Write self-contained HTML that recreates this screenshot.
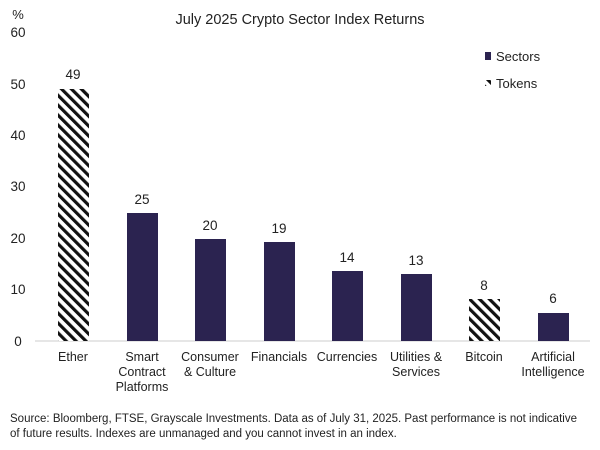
<!DOCTYPE html>
<html><head><meta charset="utf-8"><style>
body{margin:0;background:#fff}
svg text{font-family:"Liberation Sans",sans-serif;fill:#222}
</style></head><body>
<svg width="600" height="445" xmlns="http://www.w3.org/2000/svg">
<defs>
<pattern id="h" width="7" height="7" patternUnits="userSpaceOnUse" patternTransform="rotate(-45)">
<rect width="7" height="7" fill="#fff"/><rect width="3.2" height="7" fill="#111"/>
</pattern>
</defs>
<text x="300" y="24" font-size="14.5" text-anchor="middle">July 2025 Crypto Sector Index Returns</text>
<text x="18" y="19" font-size="13" text-anchor="middle">%</text>
<g font-size="13.5" text-anchor="middle">
<text x="18" y="37">60</text><text x="18" y="89">50</text><text x="18" y="140">40</text>
<text x="18" y="191">30</text><text x="18" y="243">20</text><text x="18" y="294">10</text><text x="18" y="346">0</text>
</g>
<line x1="35" y1="341" x2="590" y2="341" stroke="#ccc" stroke-width="1"/>
<g fill="#2b2350">
<rect x="58" y="89" width="31" height="252" fill="url(#h)"/>
<rect x="127" y="213" width="31" height="128"/>
<rect x="195" y="239" width="31" height="102"/>
<rect x="264" y="242" width="31" height="99"/>
<rect x="332" y="271" width="31" height="70"/>
<rect x="401" y="274" width="31" height="67"/>
<rect x="469" y="299" width="31" height="42" fill="url(#h)"/>
<rect x="538" y="313" width="31" height="28"/>
</g>
<g font-size="13.5" text-anchor="middle">
<text x="73" y="79">49</text><text x="142" y="204">25</text><text x="210" y="230">20</text>
<text x="279" y="233">19</text><text x="347" y="262">14</text><text x="416" y="265">13</text>
<text x="484" y="290">8</text><text x="553" y="303">6</text>
</g>
<g font-size="12.5" text-anchor="middle">
<text x="73" y="361">Ether</text>
<text x="142" y="361">Smart</text><text x="142" y="376">Contract</text><text x="142" y="391">Platforms</text>
<text x="210" y="361">Consumer</text><text x="210" y="376">&amp; Culture</text>
<text x="279" y="361">Financials</text>
<text x="347" y="361">Currencies</text>
<text x="416" y="361">Utilities &amp;</text><text x="416" y="376">Services</text>
<text x="484" y="361">Bitcoin</text>
<text x="553" y="361">Artificial</text><text x="553" y="376">Intelligence</text>
</g>
<rect x="485" y="52" width="6" height="8" fill="#2b2350"/>
<text x="496" y="61" font-size="13">Sectors</text>
<rect x="485" y="80" width="6" height="6" fill="url(#h)"/>
<text x="496" y="88" font-size="13">Tokens</text>
<g font-size="11.5">
<text x="10" y="422">Source: Bloomberg, FTSE, Grayscale Investments. Data as of July 31, 2025. Past performance is not indicative</text>
<text x="10" y="437">of future results. Indexes are unmanaged and you cannot invest in an index.</text>
</g>
</svg>
</body></html>
